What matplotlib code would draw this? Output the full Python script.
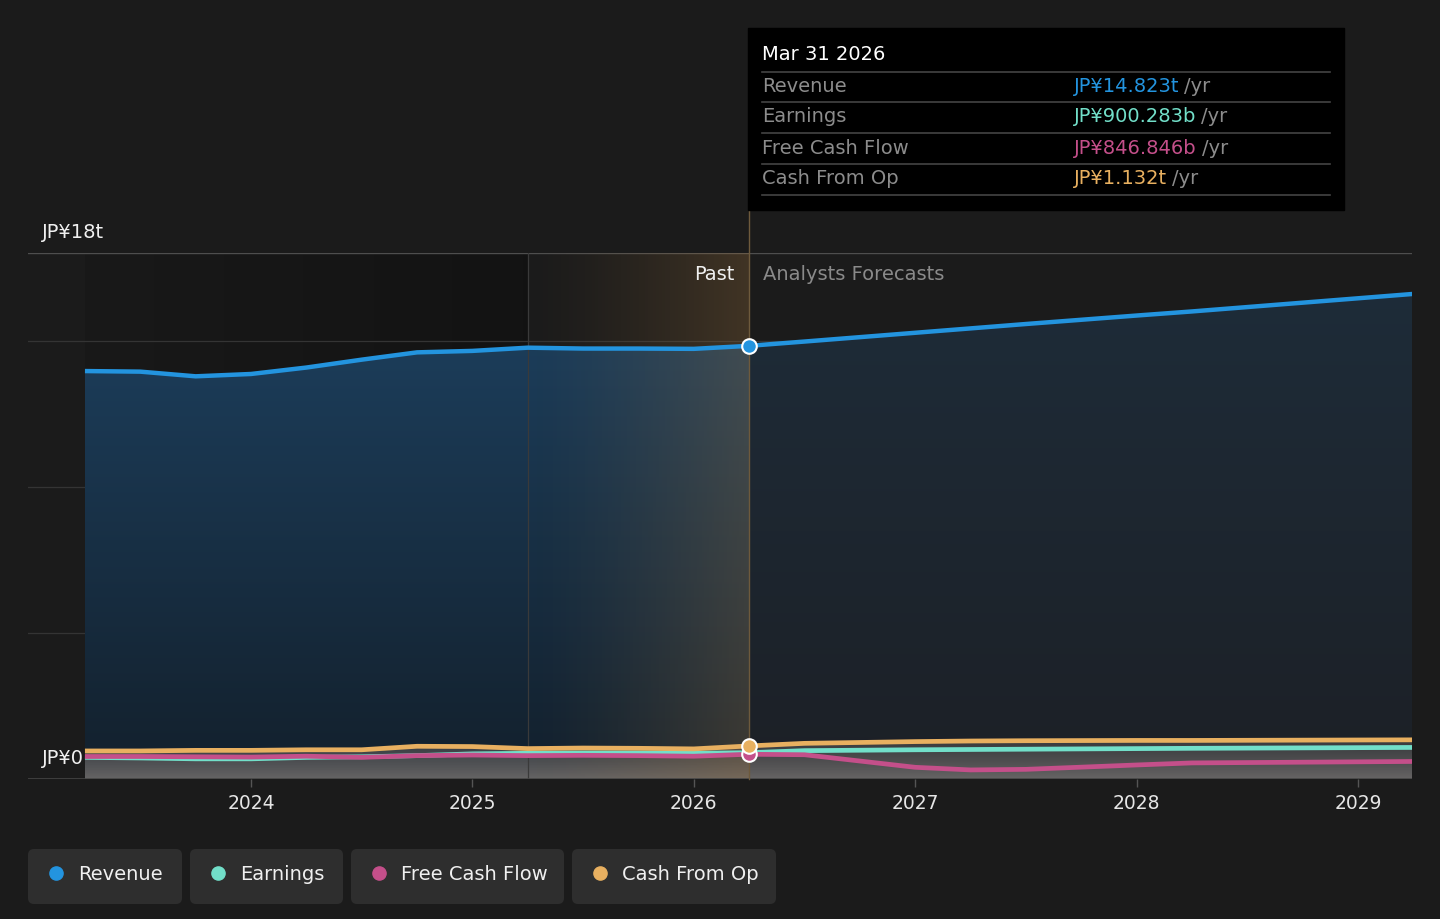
import matplotlib
matplotlib.use("Agg")
import matplotlib.pyplot as plt
import numpy as np
from matplotlib.patches import FancyBboxPatch, Rectangle
from matplotlib.colors import to_rgba

# ---- data (JP¥ trillions) ----
past_years = [2023.25, 2023.5, 2023.75, 2024.0, 2024.25, 2024.5, 2024.75,
              2025.0, 2025.25, 2025.5, 2025.75, 2026.0, 2026.25]
past_revenue = [13.96, 13.94, 13.78, 13.86, 14.08, 14.35, 14.60,
                14.65, 14.76, 14.73, 14.73, 14.72, 14.823]
past_earnings = [0.74, 0.72, 0.69, 0.69, 0.74, 0.76, 0.80,
                 0.86, 0.88, 0.89, 0.89, 0.88, 0.900]
past_fcf = [0.77, 0.77, 0.76, 0.75, 0.78, 0.74, 0.80,
            0.82, 0.80, 0.81, 0.80, 0.78, 0.847]
past_cfo = [0.96, 0.96, 0.98, 0.98, 1.00, 1.00, 1.12,
            1.11, 1.04, 1.06, 1.05, 1.03, 1.132]

fc_years = [2026.25, 2026.5, 2027.0, 2027.25, 2027.5, 2028.0, 2028.25, 2029.25]
fc_revenue = [14.823, 14.97, 15.27, 15.42, 15.57, 15.86, 16.00, 16.60]
fc_earnings = [0.900, 0.97, 1.00, 1.01, 1.02, 1.04, 1.05, 1.08]
fc_fcf = [0.847, 0.83, 0.40, 0.31, 0.33, 0.48, 0.55, 0.60]
fc_cfo = [1.132, 1.22, 1.28, 1.30, 1.31, 1.32, 1.32, 1.34]

year_ticks = [2024, 2025, 2026, 2027, 2028, 2029]
tooltip_date = "Mar 31 2026"
tooltip_rows = [("Revenue", "JP¥14.823t"), ("Earnings", "JP¥900.283b"),
                ("Free Cash Flow", "JP¥846.846b"), ("Cash From Op", "JP¥1.132t")]
series_names = ["Revenue", "Earnings", "Free Cash Flow", "Cash From Op"]

# ---- style ----
BG = "#1b1b1b"
C_REV = "#2394df"
C_EARN = "#72dfc9"
C_FCF = "#c44f8a"
C_CFO = "#e8b060"
colors = [C_REV, C_EARN, C_FCF, C_CFO]
TODAY = 2026.25
PAST_START = 2025.25
FS = 14

fig = plt.figure(figsize=(14.4, 9.19), dpi=100, facecolor=BG)
ax = fig.add_axes([28/1440, 140/919, 1384/1440, 526/919])
ax.set_facecolor(BG)
for s in ax.spines.values():
    s.set_visible(False)

years = np.array(past_years + fc_years[1:])
rev = np.array(past_revenue + fc_revenue[1:])
earn = np.array(past_earnings + fc_earnings[1:])
fcf = np.array(past_fcf + fc_fcf[1:])
cfo = np.array(past_cfo + fc_cfo[1:])


def vgrad(ax, x, y, top, bot, ymax, z):
    poly = ax.fill_between(x, 0, y, color="none", lw=0)
    t = np.linspace(0, 1, 256)[:, None, None]
    arr = np.array(to_rgba(bot))[None, None, :] * (1 - t) + np.array(to_rgba(top))[None, None, :] * t
    im = ax.imshow(arr, extent=[x[0], x[-1], 0, ymax], origin="lower",
                   aspect="auto", zorder=z, interpolation="bilinear")
    im.set_clip_path(poly.get_paths()[0], transform=ax.transData)


# darker band over older past
t = np.linspace(0, 1, 256)[None, :, None]
dark = np.concatenate([np.zeros((1, 256, 3)), 0.08 + 0.22 * t], axis=2)
ax.imshow(dark, extent=[past_years[0], PAST_START, 0, 18], aspect="auto",
          zorder=0.5, interpolation="bilinear")

# revenue area
vgrad(ax, np.array(past_years), np.array(past_revenue), "#1c3d5a", "#13202c", 15, 1)
vgrad(ax, np.array(fc_years), np.array(fc_revenue), "#1e2c39", "#1c2026", 17, 1)

# grey area below small series
vgrad(ax, years, cfo, (0.32, 0.32, 0.32, 0.55), (0.42, 0.41, 0.41, 0.95), 1.3, 1.5)

# past highlight
hl = np.concatenate([np.ones((1, 256, 3)) * np.array([0.64, 0.46, 0.24]),
                     0.28 * t ** 1.3], axis=2)
ax.imshow(hl, extent=[PAST_START, TODAY, 0, 18], aspect="auto", zorder=2,
          interpolation="bilinear")

# grid
for g in [5, 10, 15]:
    ax.axhline(g, color="#343434", lw=0.9, zorder=0.8)
ax.axhline(18, color="#4e4e4e", lw=1.0, zorder=0.8)
ax.axhline(0, color="#444444", lw=1.2, zorder=3)
ax.axvline(PAST_START, ymin=0, ymax=1, color="#3a3a3a", lw=0.9, zorder=2.1)

# lines
ax.plot(years, earn, color=C_EARN, lw=3.4, zorder=4.0, solid_capstyle="butt")
ax.plot(years, fcf, color=C_FCF, lw=3.4, zorder=4.1, solid_capstyle="butt")
ax.plot(years, cfo, color=C_CFO, lw=3.4, zorder=4.2, solid_capstyle="butt")
ax.plot(years, rev, color=C_REV, lw=3.2, zorder=4.3, solid_capstyle="butt")

# today line + markers
ax.axvline(TODAY, ymin=0, ymax=(779 - 210) / 526, color="#6e5a3c", lw=1.0,
           zorder=3.5, clip_on=False)
ax.plot([TODAY], [fc_revenue[0]], "o", ms=10.5, mfc=C_REV, mec="white", mew=1.5, zorder=6)
ax.plot([TODAY], [fc_fcf[0]], "o", ms=10.5, mfc=C_FCF, mec="white", mew=1.5, zorder=6)
ax.plot([TODAY], [fc_cfo[0]], "o", ms=10.5, mfc=C_CFO, mec="white", mew=1.5, zorder=6.1)

ax.set_xlim(2024 - 223 / 221.4, 2024 + 1161 / 221.4)
ax.set_ylim(0, 18)
ax.set_yticks([])
ax.set_xticks(year_ticks)
ax.set_xticklabels([str(y) for y in year_ticks])
ax.tick_params(axis="x", colors="#555555", length=6, width=1, labelcolor="#e6e6e6",
               labelsize=13.5, pad=5)

ax.annotate("JP¥18t", xy=(0, 18), xycoords=ax.get_yaxis_transform(),
            xytext=(14, 21), textcoords="offset pixels", va="center",
            color="#f0f0f0", fontsize=FS, annotation_clip=False)
ax.annotate("JP¥0", xy=(0, 0), xycoords=ax.get_yaxis_transform(),
            xytext=(14, 21), textcoords="offset pixels", va="center",
            color="#f0f0f0", fontsize=FS, annotation_clip=False)
ax.annotate("Past", xy=(TODAY, 18), xytext=(-15, -21), textcoords="offset pixels",
            ha="right", va="center", color="#f0f0f0", fontsize=FS)
ax.annotate("Analysts Forecasts", xy=(TODAY, 18), xytext=(14, -21),
            textcoords="offset pixels", ha="left", va="center", color="#8a8a8a",
            fontsize=FS)

# ---- overlay in pixel coords: tooltip + legend ----
ov = fig.add_axes([0, 0, 1, 1], zorder=10)
ov.set_xlim(0, 1440)
ov.set_ylim(919, 0)
ov.axis("off")

ov.add_patch(Rectangle((748, 28), 596, 182, color="black", zorder=1))
ov.text(762, 55, tooltip_date, color="white", fontsize=FS, va="center", zorder=2)
for yy in [72, 102, 133, 164, 195]:
    ov.plot([762, 1330], [yy, yy], color="#444444", lw=1.2, zorder=2)
fig.canvas.draw()
rend = fig.canvas.get_renderer()
for (lab, val), c, yy in zip(tooltip_rows, colors, [87, 117, 148, 178]):
    ov.text(762, yy, lab, color="#8c8c8c", fontsize=FS, va="center", zorder=2)
    tv = ov.text(1074, yy, val, color=c, fontsize=FS, va="center", zorder=2)
    bb = tv.get_window_extent(rend)
    ov.text(bb.x1 + 5, yy, "/yr", color="#8c8c8c", fontsize=FS, va="center", zorder=2)

boxes = [(28, 182), (190, 343), (351, 564), (572, 776)]
for (x0, x1), name, c in zip(boxes, series_names, colors):
    ov.add_patch(FancyBboxPatch((x0 + 6, 855), x1 - x0 - 12, 43,
                                boxstyle="round,pad=6,rounding_size=6",
                                fc="#2e2e2e", ec="none", zorder=1))
    ov.plot([x0 + 28], [873], "o", ms=9.5, color=c, zorder=2)
    ov.text(x0 + 50, 874, name, color="#f0f0f0", fontsize=FS, va="center", zorder=2)

fig.savefig("out.png", dpi=100, facecolor=BG)
